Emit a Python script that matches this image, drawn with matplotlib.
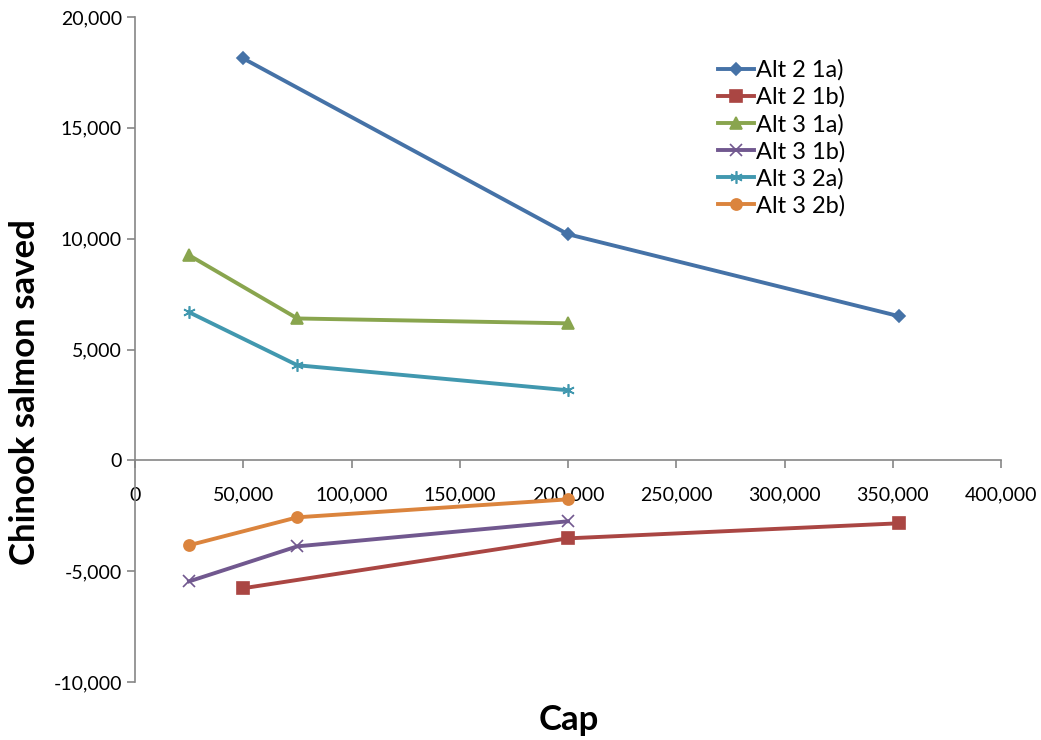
import matplotlib
matplotlib.use('Agg')
import matplotlib.pyplot as plt
from matplotlib.ticker import FuncFormatter

plt.rcParams['font.family'] = ['Lato', 'DejaVu Sans']

# data
x_alt2 = [50000, 200000, 353000]
x_alt3 = [25000, 75000, 200000]
alt2_1a = [18130, 10200, 6500]
alt2_1b = [-5770, -3520, -2840]
alt3_1a = [9250, 6400, 6180]
alt3_1b = [-5460, -3880, -2750]
alt3_2a = [6680, 4290, 3160]
alt3_2b = [-3830, -2570, -1760]

series = [
    ('Alt 2 1a)', x_alt2, alt2_1a, '#4572A7', 'D', 6),
    ('Alt 2 1b)', x_alt2, alt2_1b, '#AA4643', 's', 8),
    ('Alt 3 1a)', x_alt3, alt3_1a, '#89A54E', '^', 8),
    ('Alt 3 1b)', x_alt3, alt3_1b, '#71588F', 'x', 8),
    ('Alt 3 2a)', x_alt3, alt3_2a, '#4198AF', (6, 2, 0), 9),
    ('Alt 3 2b)', x_alt3, alt3_2b, '#DB843D', 'o', 8),
]

fig = plt.figure(figsize=(10.41, 7.40), dpi=100)
ax = fig.add_axes([135/1041, 1-682/740, (1001-135)/1041, (682-17)/740])

for name, xs, ys, c, m, ms in series:
    ax.plot(xs, ys, color=c, marker=m, markersize=ms, linewidth=2.8,
            markeredgecolor=c, markeredgewidth=1.2, label=name)

ax.set_xlim(0, 400000)
ax.set_ylim(-10000, 20000)
ax.set_xticks(range(0, 400001, 50000))
ax.set_yticks(range(-10000, 20001, 5000))
fmt = FuncFormatter(lambda v, p: '{:,.0f}'.format(v))
ax.xaxis.set_major_formatter(fmt)
ax.yaxis.set_major_formatter(fmt)

for s in ['top', 'right']:
    ax.spines[s].set_visible(False)
ax.spines['bottom'].set_position(('data', 0))
ax.spines['bottom'].set_color('#868686')
ax.spines['left'].set_color('#868686')
ax.spines['bottom'].set_linewidth(1.2)
ax.spines['left'].set_linewidth(1.2)
ax.tick_params(axis='both', colors='#868686', labelcolor='black', labelsize=14,
               direction='out', length=6, width=1.2)
ax.tick_params(axis='x', pad=13)

fig.text(0.546, 0.027, 'Cap', ha='center', va='center', fontsize=25, fontweight='bold')
fig.text(0.024, 0.47, 'Chinook salmon saved', ha='center', va='center',
         rotation=90, fontsize=25, fontweight='bold')

ax.legend(loc='upper left', bbox_to_anchor=(697/1041, 1-38/740),
          bbox_transform=fig.transFigure, frameon=False, fontsize=17,
          handlelength=1.5, labelspacing=0.24, handletextpad=0.1)

fig.savefig('out.png', dpi=100)
